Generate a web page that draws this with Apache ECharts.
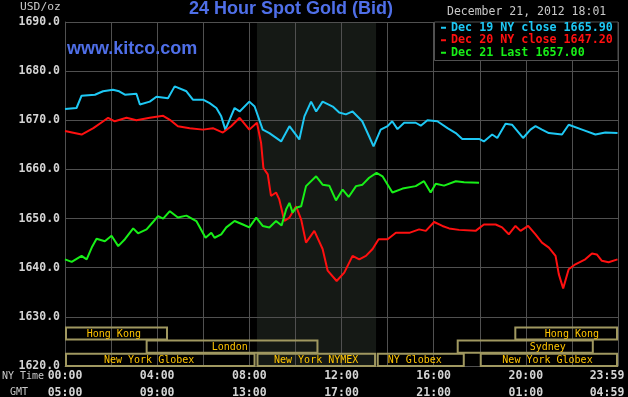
<!DOCTYPE html>
<html><head><meta charset="utf-8">
<script src="https://cdn.jsdelivr.net/npm/echarts@6/dist/echarts.min.js"></script>
<style>html,body{margin:0;padding:0;background:#000;}#c{width:628px;height:397px;}</style>
</head><body><div id="c"></div>
<script>
// ---- data (NY time in hours, price USD/oz) ----
const cyanT = [0.0,0.5,0.72,1.3,1.65,2.08,2.35,2.6,3.1,3.25,3.68,3.97,4.47,4.76,5.27,5.55,5.99,6.28,6.57,6.78,6.96,7.14,7.36,7.58,8.0,8.23,8.58,8.87,9.38,9.74,10.17,10.39,10.68,10.9,11.18,11.62,11.9,12.19,12.48,12.9,13.2,13.39,13.7,14.0,14.2,14.43,14.72,15.22,15.44,15.73,16.16,16.6,16.96,17.24,17.97,18.18,18.54,18.76,19.12,19.4,19.88,20.2,20.42,20.7,21.0,21.57,21.86,22.44,23.02,23.45,23.98];
const cyanV = [1672.3,1672.5,1675.0,1675.2,1675.9,1676.2,1675.9,1675.2,1675.4,1673.2,1673.8,1674.8,1674.5,1676.9,1675.9,1674.2,1674.2,1673.5,1672.5,1670.8,1668.1,1670.1,1672.5,1671.8,1673.8,1672.8,1668.1,1667.4,1665.7,1668.8,1666.1,1670.8,1673.8,1671.8,1673.8,1672.8,1671.6,1671.2,1671.8,1669.8,1666.7,1664.7,1668.1,1668.8,1669.8,1668.2,1669.5,1669.5,1668.9,1670.0,1669.8,1668.4,1667.4,1666.2,1666.2,1665.7,1667.1,1666.4,1669.3,1669.1,1666.4,1668.1,1668.8,1668.1,1667.4,1667.1,1669.1,1668.1,1667.1,1667.5,1667.4];
const redT = [0.0,0.72,1.23,1.66,1.87,2.16,2.67,3.1,3.68,4.26,4.55,4.9,5.41,5.99,6.42,6.85,7.21,7.58,8.0,8.33,8.51,8.61,8.8,8.94,9.16,9.3,9.52,9.74,10.03,10.25,10.46,10.82,11.18,11.4,11.79,12.12,12.48,12.77,13.06,13.35,13.61,14.0,14.36,14.94,15.37,15.66,16.02,16.38,16.67,17.1,17.82,18.18,18.69,18.97,19.26,19.55,19.77,20.1,20.42,20.7,21.0,21.29,21.43,21.62,21.86,22.15,22.58,22.87,23.08,23.3,23.59,23.98];
const redV = [1667.8,1667.1,1668.4,1669.8,1670.5,1669.8,1670.5,1670.0,1670.5,1670.9,1670.1,1668.8,1668.4,1668.1,1668.4,1667.5,1668.8,1670.5,1668.1,1669.5,1665.4,1660.3,1659.0,1654.6,1655.3,1653.9,1649.5,1650.2,1652.5,1649.8,1645.1,1647.5,1643.8,1639.4,1637.3,1639.0,1642.4,1641.7,1642.4,1643.8,1645.8,1645.8,1647.1,1647.1,1647.8,1647.5,1649.3,1648.5,1648.0,1647.7,1647.5,1648.8,1648.8,1648.2,1646.8,1648.5,1647.5,1648.5,1646.8,1645.1,1644.1,1642.4,1638.7,1635.8,1639.7,1640.7,1641.7,1642.9,1642.7,1641.4,1641.1,1641.7];
const greenT = [0.0,0.29,0.72,0.94,1.16,1.37,1.73,2.02,2.31,2.6,2.96,3.17,3.54,3.82,4.04,4.26,4.55,4.9,5.27,5.7,6.1,6.35,6.49,6.78,7.0,7.36,7.72,8.0,8.3,8.58,8.87,9.16,9.4,9.6,9.74,9.88,10.03,10.25,10.46,10.9,11.18,11.47,11.76,12.05,12.31,12.63,12.91,13.2,13.52,13.78,14.21,14.65,15.22,15.58,15.87,16.09,16.45,16.96,17.32,17.97];
const greenV = [1641.7,1641.2,1642.4,1641.7,1644.1,1645.9,1645.4,1646.5,1644.4,1645.8,1648.0,1647.0,1647.8,1649.3,1650.5,1650.0,1651.5,1650.2,1650.6,1649.5,1646.1,1647.1,1646.1,1646.8,1648.2,1649.5,1648.8,1648.2,1650.2,1648.5,1648.2,1649.5,1648.6,1651.9,1653.2,1651.2,1652.2,1652.5,1656.6,1658.6,1656.9,1656.7,1653.7,1655.9,1654.4,1656.6,1656.9,1658.3,1659.3,1658.6,1655.3,1656.1,1656.6,1657.6,1655.3,1657.1,1656.7,1657.6,1657.4,1657.3];
const seriesNames = ['Dec 19 NY close 1665.90','Dec 20 NY close 1647.20','Dec 21 Last 1657.00'];
const nyLabels = ['00:00','04:00','08:00','12:00','16:00','20:00','23:59'];
const gmtLabels = ['05:00','09:00','13:00','17:00','21:00','01:00','04:59'];
const shadeStart = 8.33, shadeEnd = 13.5;
const sessionNames = ['Hong Kong','London','New York Globex','New York NYMEX','NY Globex','Sydney','Hong Kong','New York Globex'];
const sessionStart = [0, 3.5, 0, 8.31, 13.53, 17.0, 19.5, 18.0];
const sessionEnd   = [4.47, 11.0, 8.27, 13.5, 17.35, 22.95, 24, 24];
const sessionRow   = [2, 1, 0, 0, 0, 1, 2, 0];
const sessionLabelAt = [2.12, 7.15, 3.65, 10.9, 15.18, 20.95, 22.0, 20.94];

const colors = ['#1ec8f4', '#ff1010', '#18f018'];
const mono = '"DejaVu Sans Mono", monospace';
const gridColor = '#505050';

const chart = echarts.init(document.getElementById('c'));
const pairs = (t, v) => t.map((x, i) => [x, v[i]]);
const lineSeries = [[cyanT,cyanV],[redT,redV],[greenT,greenV]].map((d, i) => ({
  type: 'line', name: seriesNames[i], data: pairs(d[0], d[1]), showSymbol: false, symbol: 'none',
  lineStyle: { width: 2, color: colors[i] }, itemStyle: { color: colors[i] }, z: 2, animation: false
}));

const sessionData = sessionNames.map((n, i) => [sessionStart[i], sessionEnd[i], sessionRow[i], sessionLabelAt[i], i]);

chart.setOption({
  backgroundColor: '#000',
  animation: false,
  title: [
    { text: '24 Hour Spot Gold (Bid)', left: 189, top: 0, padding: 0,
      textStyle: { color: '#4f6fe8', fontSize: 18, fontWeight: 'bold', fontFamily: '"Liberation Sans", Arial', lineHeight: 18 } },
    { text: 'www.kitco.com', left: 67, top: 40, padding: 0,
      textStyle: { color: '#4f6fe8', fontSize: 18, fontWeight: 'bold', fontFamily: '"Liberation Sans", Arial', lineHeight: 18 } },
    { text: 'December 21, 2012 18:01', left: 447, top: 5, padding: 0,
      textStyle: { color: '#c8c8c8', fontSize: 11.5, fontWeight: 'normal', fontFamily: mono, lineHeight: 14 } },
    { text: 'USD/oz', left: 20, top: 0, padding: 0,
      textStyle: { color: '#c8c8c8', fontSize: 11.3, fontWeight: 'normal', fontFamily: mono, lineHeight: 14 } },
    { text: 'NY Time', left: 2, top: 369, padding: 0,
      textStyle: { color: '#c8c8c8', fontSize: 10, fontWeight: 'normal', fontFamily: mono, lineHeight: 14 } },
    { text: 'GMT', left: 10, top: 385, padding: 0,
      textStyle: { color: '#c8c8c8', fontSize: 10, fontWeight: 'normal', fontFamily: mono, lineHeight: 14 } }
  ],
  graphic: [
    { type: 'rect', z: 3, shape: { x: 434.5, y: 22, width: 183.5, height: 38.5 },
      style: { fill: '#000', stroke: gridColor, lineWidth: 1 } }
  ],
  legend: {
    orient: 'vertical', left: 441, top: 21.5, padding: 0, itemGap: 0, itemWidth: 5, itemHeight: 2,
    icon: 'rect', selectedMode: false, z: 4,
    textStyle: { fontFamily: mono, fontWeight: 'bold', fontSize: 11.7, lineHeight: 12.5 },
    data: seriesNames.map((n, i) => ({ name: n, textStyle: { color: colors[i] }, itemStyle: { color: colors[i] } }))
  },
  grid: { left: 65, right: 10, top: 22, bottom: 31, containLabel: false, outerBoundsMode: 'none' },
  xAxis: {
    type: 'value', min: 0, max: 24, interval: 2, z: 1,
    axisLine: { show: true, lineStyle: { color: gridColor } },
    axisTick: { show: false },
    splitLine: { show: true, lineStyle: { color: gridColor, width: 1 } },
    axisLabel: {
      margin: 2, showMinLabel: true, showMaxLabel: true,
      formatter: (v) => {
        if (v % 4 !== 0) return '';
        const i = v / 4;
        const k = i === 6 ? 'e' : 'n';
        return '{' + k + '|' + nyLabels[i] + '}\n{' + k + '|' + gmtLabels[i] + '}';
      },
      rich: {
        n: { fontFamily: mono, fontWeight: 'bold', fontSize: 11.5, color: '#d4d4d4', lineHeight: 16.5 },
        e: { fontFamily: mono, fontWeight: 'bold', fontSize: 11.5, color: '#d4d4d4', lineHeight: 16.5, padding: [0, 22, 0, 0] }
      }
    }
  },
  yAxis: {
    type: 'value', min: 1620, max: 1690, interval: 10, z: 1,
    axisLine: { show: true, lineStyle: { color: gridColor } },
    axisTick: { show: false },
    splitLine: { show: true, lineStyle: { color: gridColor, width: 1 } },
    axisLabel: { margin: 5, color: '#d4d4d4', fontFamily: mono, fontWeight: 'bold', fontSize: 11.5,
      formatter: (v) => v.toFixed(1) }
  },
  series: [
    {
      type: 'custom', z: 0, silent: true, clip: false,
      data: [[shadeStart, shadeEnd]],
      renderItem: (params, api) => {
        const a = api.coord([api.value(0), 1690]);
        const b = api.coord([api.value(1), 1620]);
        return { type: 'rect', shape: { x: a[0], y: a[1], width: b[0] - a[0], height: b[1] - a[1] },
          style: { fill: '#151915' } };
      }
    },
    ...lineSeries,
    {
      type: 'custom', z: 3, silent: true, clip: false,
      data: sessionData,
      renderItem: (params, api) => {
        const s = api.coord([api.value(0), 1620]);
        const e = api.coord([api.value(1), 1620]);
        const row = api.value(2);
        const lx = api.coord([api.value(3), 1620])[0];
        const idx = api.value(4);
        const rowH = 13.2;
        const y0 = s[1] - (row + 1) * rowH;
        return {
          type: 'group',
          children: [
            { type: 'rect', shape: { x: s[0] + 1, y: y0 + 1, width: e[0] - s[0] - 2, height: rowH - 1 },
              style: { fill: null, stroke: '#a09860', lineWidth: 2 } },
            { type: 'text', style: { text: sessionNames[idx], x: lx, y: y0 + rowH / 2 + 1,
              align: 'center', verticalAlign: 'middle', fill: '#ffc400',
              font: '10px "DejaVu Sans Mono", monospace' } }
          ]
        };
      }
    }
  ]
});
</script></body></html>
